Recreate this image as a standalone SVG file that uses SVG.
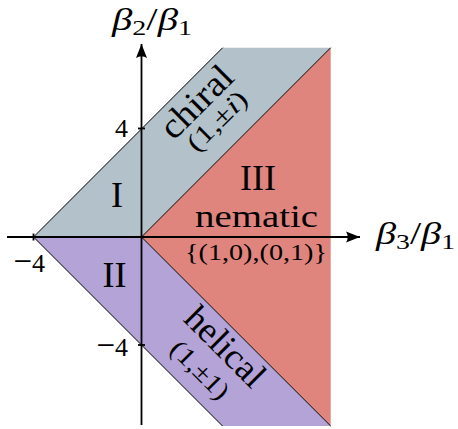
<svg xmlns="http://www.w3.org/2000/svg" width="458" height="429" viewBox="0 0 458 429">
<style>
text{font-family:"Liberation Serif","Times New Roman",serif;fill:#000}
.lbl{font-size:36px;text-anchor:middle}
.nm{font-size:32px;text-anchor:middle}
.sm{font-size:24px;text-anchor:middle}
.sm2{font-size:26px;text-anchor:middle}
.tick{font-size:26px}
.mn{font-size:33px}
.ax{font-size:32px}
.it{font-style:italic}
.sub{font-size:22px}
.edge{stroke:#000;stroke-width:1;fill:none}
.axis{stroke:#000;stroke-width:1.8;fill:none}
</style>
<defs>
<marker id="arr" markerWidth="16" markerHeight="12" refX="14" refY="6" orient="auto" markerUnits="userSpaceOnUse">
<path d="M14,6 L0,0.5 Q3.5,6 0,11.5 Z" fill="#000"/>
</marker>
</defs>
<g id="regions">
<polygon id="chiral-region" points="33.5,237 222.7,47.7 330.7,47.7 141.5,237" fill="#b2c1ca"/>
<polygon id="nematic-region" points="141.5,237 330.7,47.7 330.7,426 " fill="#e0857e"/>
<polygon id="helical-region" points="33.5,237 141.5,237 330.7,426 222.5,426" fill="#b3a3d7"/>
</g>
<g id="connectors">
<line class="edge" x1="33.5" y1="237" x2="222.7" y2="47.7"/>
<line class="edge" x1="141.5" y1="237" x2="330.7" y2="47.7"/>
<line class="edge" x1="141.5" y1="237" x2="330.7" y2="426"/>
<line class="edge" x1="33.5" y1="237" x2="222.5" y2="426"/>
<line class="axis" x1="7" y1="237" x2="360" y2="237" marker-end="url(#arr)"/>
<line class="axis" x1="141.5" y1="425" x2="141.5" y2="44" marker-end="url(#arr)"/>
<line class="axis" x1="33.5" y1="233.5" x2="33.5" y2="240.5" stroke-width="1.2"/>
<line class="axis" x1="138" y1="128.5" x2="145" y2="128.5" stroke-width="1.2"/>
<line class="axis" x1="138" y1="345" x2="145" y2="345" stroke-width="1.2"/>
</g>
<g id="axis-labels">
<text class="ax" x="112" y="30" textLength="80" lengthAdjust="spacingAndGlyphs"><tspan class="it">β</tspan><tspan class="sub" dy="5">2</tspan><tspan dy="-5">/</tspan><tspan class="it">β</tspan><tspan class="sub" dy="5">1</tspan></text>
<text class="ax" x="376" y="244" textLength="79" lengthAdjust="spacingAndGlyphs"><tspan class="it">β</tspan><tspan class="sub" dy="5">3</tspan><tspan dy="-5">/</tspan><tspan class="it">β</tspan><tspan class="sub" dy="5">1</tspan></text>
<text class="tick" x="128" y="137" text-anchor="end">4</text>
<text class="tick" x="45" y="272" text-anchor="end"><tspan class="mn">−</tspan>4</text>
<text class="tick" x="128" y="356" text-anchor="end"><tspan class="mn">−</tspan>4</text>
</g>
<g id="node-I"><text class="lbl" x="117" y="207">I</text></g>
<g id="node-II"><text class="lbl" x="114.5" y="287">II</text></g>
<g id="node-III">
<text class="lbl" x="258" y="190">III</text>
<text class="nm" x="256.5" y="226.5" textLength="123" lengthAdjust="spacingAndGlyphs">nematic</text>
<text class="sm" x="256" y="260" textLength="142" lengthAdjust="spacingAndGlyphs">{(1,0),(0,1)}</text>
</g>
<g id="node-chiral">
<text class="lbl" transform="translate(204.75,110.25) rotate(-45)" x="0" y="0" textLength="88" lengthAdjust="spacingAndGlyphs">chiral</text>
<text class="sm2" transform="translate(223,127) rotate(-45)" x="0" y="0" textLength="74" lengthAdjust="spacingAndGlyphs">(1,±<tspan class="it">i</tspan>)</text>
</g>
<g id="node-helical">
<text class="lbl" transform="translate(217,355) rotate(45)" x="0" y="0" textLength="98" lengthAdjust="spacingAndGlyphs">helical</text>
<text class="sm2" transform="translate(194,376) rotate(45)" x="0" y="0" textLength="72" lengthAdjust="spacingAndGlyphs">(1,±1)</text>
</g>
</svg>
